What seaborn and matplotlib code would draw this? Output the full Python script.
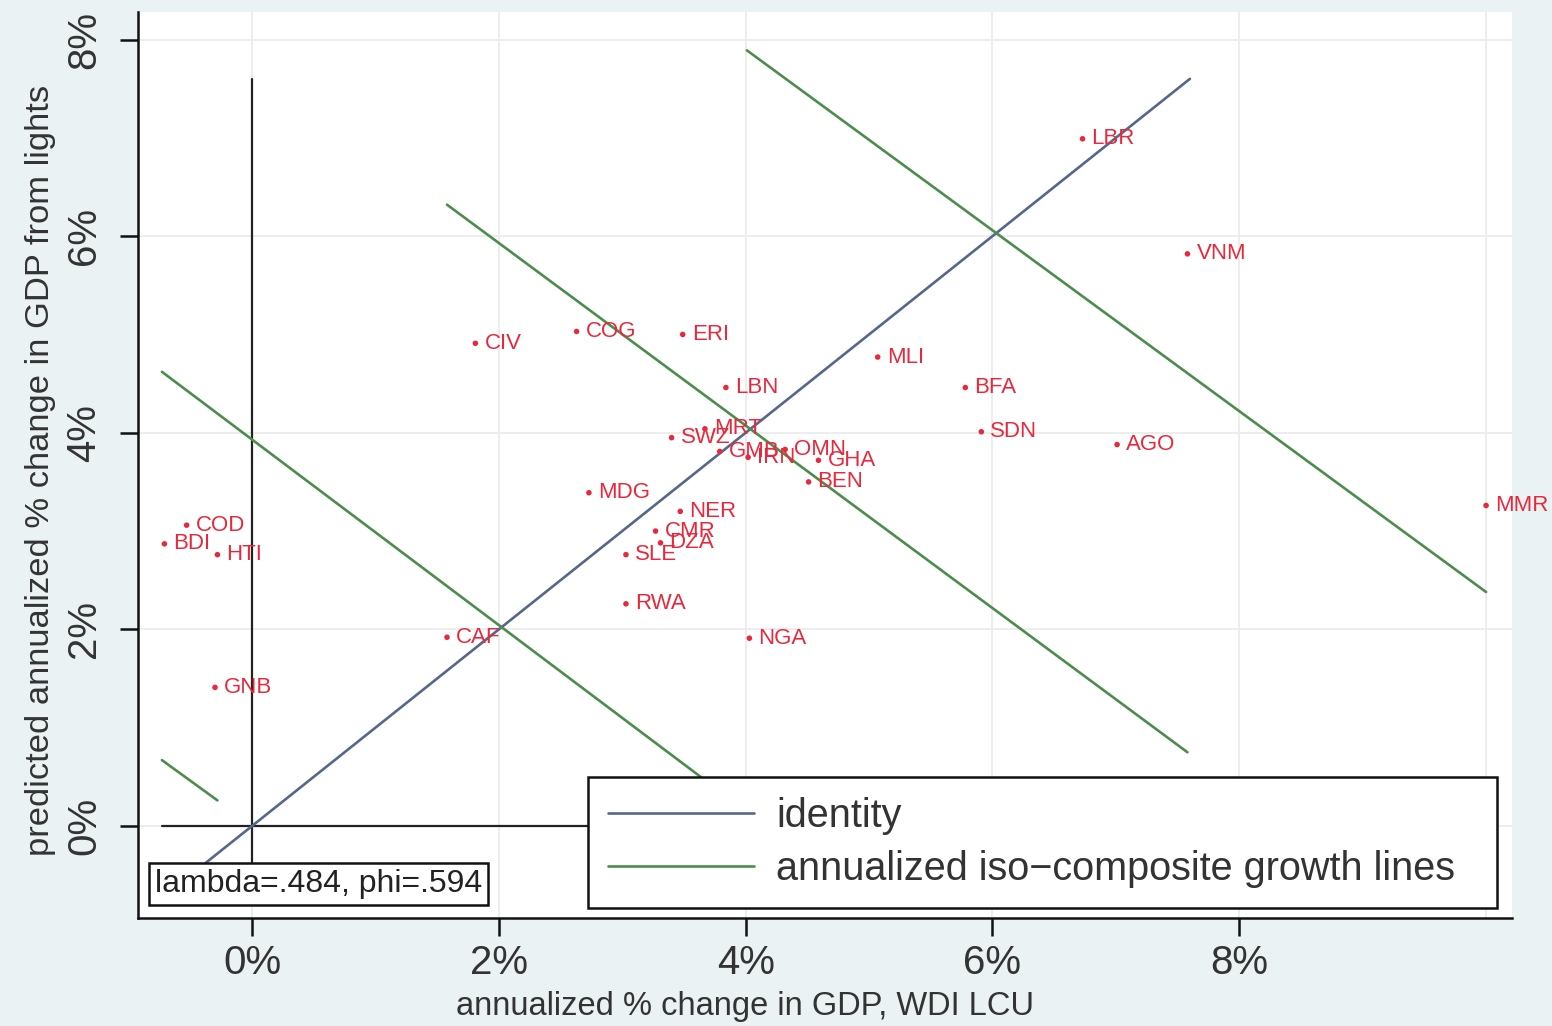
import numpy as np
import pandas as pd
import matplotlib
matplotlib.use("Agg")
import matplotlib.pyplot as plt
from matplotlib.lines import Line2D
from matplotlib.ticker import FuncFormatter
import seaborn as sns

# Country observations: annualized GDP growth (WDI, LCU) vs. growth predicted from lights (%)
countries = ["LBR", "VNM", "CIV", "COG", "ERI", "MLI", "LBN", "BFA", "SDN", "AGO",
             "MMR", "SWZ", "MRT", "GMB", "IRN", "OMN", "GHA", "BEN", "MDG", "NER",
             "CMR", "DZA", "SLE", "RWA", "NGA", "CAF", "COD", "BDI", "HTI", "GNB"]
gdp_wdi = [6.73, 7.58, 1.81, 2.63, 3.49, 5.07, 3.84, 5.78, 5.91, 7.01,
           10.00, 3.40, 3.67, 3.79, 4.02, 4.32, 4.59, 4.51, 2.73, 3.47,
           3.27, 3.31, 3.03, 3.03, 4.03, 1.58, -0.53, -0.71, -0.28, -0.30]
gdp_lights = [6.99, 5.82, 4.91, 5.03, 5.00, 4.77, 4.46, 4.46, 4.01, 3.88,
              3.26, 3.95, 4.04, 3.81, 3.75, 3.83, 3.72, 3.50, 3.39, 3.20,
              3.00, 2.88, 2.76, 2.26, 1.91, 1.92, 3.06, 2.87, 2.76, 1.41]

# 45-degree identity line
identity_range = [-0.40, 7.60]

# Iso-composite growth segments (one per composite growth level 0, 2, 4, 6 %)
iso_level = [0, 2, 4, 6]
iso_x_start = [-0.73, -0.73, 1.58, 4.01]
iso_x_end = [-0.28, 3.90, 7.58, 10.00]
iso_y_start = [0.67, 4.62, 6.32, 7.89]
iso_y_end = [0.26, 0.25, 0.75, 2.38]

# Zero reference lines
vref_y = [-0.40, 7.60]
href_x = [-0.73, 7.60]

x_ticks = [0, 2, 4, 6, 8]
x_grid = [0, 2, 4, 6, 8, 10]
y_ticks = [0, 2, 4, 6, 8]
annotation = "lambda=.484, phi=.594"

RED = "#e8283c"
GREEN = "#4c8c4c"
NAVY = "#56678a"
BG = "#eaf2f3"

sns.set_theme(style="white")
plt.rcParams["font.family"] = ["Liberation Sans", "DejaVu Sans"]

fig = plt.figure(figsize=(15.52, 10.26), dpi=100, facecolor=BG)
ax = fig.add_axes([138 / 1552, 1 - 918 / 1026, 1374 / 1552, 906 / 1026])
ax.set_facecolor("white")
ax.set_xlim(-0.924, 10.21)
ax.set_ylim(-0.936, 8.28)

for gx in x_grid:
    ax.axvline(gx, color="#ececec", lw=1.3, zorder=0)
for gy in y_ticks:
    ax.axhline(gy, color="#ececec", lw=1.3, zorder=0)

# reference lines at zero
ref = pd.DataFrame({"x": [0, 0], "y": vref_y})
sns.lineplot(data=ref, x="x", y="y", ax=ax, color="#222222", lw=1.6,
             estimator=None, sort=False, zorder=2)
ref = pd.DataFrame({"x": href_x, "y": [0, 0]})
sns.lineplot(data=ref, x="x", y="y", ax=ax, color="#222222", lw=1.6,
             estimator=None, sort=False, zorder=2)

# identity
ident = pd.DataFrame({"x": identity_range, "y": identity_range})
sns.lineplot(data=ident, x="x", y="y", ax=ax, color=NAVY, lw=1.9,
             estimator=None, sort=False, zorder=3)

# iso-composite growth lines
iso = pd.DataFrame({
    "level": np.repeat(iso_level, 2),
    "x": np.ravel(np.column_stack([iso_x_start, iso_x_end])),
    "y": np.ravel(np.column_stack([iso_y_start, iso_y_end])),
})
sns.lineplot(data=iso, x="x", y="y", units="level", ax=ax, color=GREEN, lw=1.9,
             estimator=None, sort=False, zorder=3)

# country points with labels
pts = pd.DataFrame({"iso3": countries, "x": gdp_wdi, "y": gdp_lights})
sns.scatterplot(data=pts, x="x", y="y", ax=ax, color=RED, s=16,
                edgecolor="none", zorder=4)
for _, r in pts.iterrows():
    ax.annotate(r["iso3"], (r["x"], r["y"]), xytext=(6.5, 0),
                textcoords="offset points", va="center", ha="left",
                color=RED, fontsize=16, zorder=4)

# axes styling
for side in ["top", "right"]:
    ax.spines[side].set_visible(False)
for side in ["left", "bottom"]:
    ax.spines[side].set_color("#111111")
    ax.spines[side].set_linewidth(1.8)
ax.set_xticks(x_ticks)
ax.set_yticks(y_ticks)
pct = FuncFormatter(lambda v, p: f"{v:.0f}%")
ax.xaxis.set_major_formatter(pct)
ax.yaxis.set_major_formatter(pct)
ax.tick_params(axis="both", direction="out", length=13, width=1.8,
               color="#111111", labelsize=29, labelcolor="#333333",
               bottom=True, left=True)
ax.tick_params(axis="x", pad=6)
ax.tick_params(axis="y", pad=12)
for lab in ax.get_yticklabels():
    lab.set_rotation(90)
    lab.set_va("center")

ax.set_xlabel("annualized % change in GDP, WDI LCU", fontsize=23.5,
              color="#333333")
ax.xaxis.set_label_coords(0.442, -0.081)
ax.set_ylabel("predicted annualized % change in GDP from lights", fontsize=24.8,
              color="#333333")
ax.yaxis.set_label_coords(-0.060, 0.494)

# parameter box
ax.text(0.0124, 0.0375, annotation, transform=ax.transAxes, fontsize=23,
        color="#222222", va="center", ha="left", zorder=6,
        bbox=dict(boxstyle="square,pad=0.18", fc="white", ec="#111111", lw=1.8))

handles = [Line2D([], [], color=NAVY, lw=1.9),
           Line2D([], [], color=GREEN, lw=1.9)]
leg = ax.legend(handles, ["identity", "annualized iso\u2212composite growth lines"],
                loc="lower left", bbox_to_anchor=(0.3275, 0.011, 0.6615, 0.157),
                mode="expand", fontsize=28.5, frameon=True, fancybox=False,
                framealpha=1.0, handlelength=3.7, handletextpad=0.55,
                labelspacing=0.38, borderpad=0.5, borderaxespad=0)
leg.get_frame().set_edgecolor("#111111")
leg.get_frame().set_linewidth(1.8)
leg.set_zorder(7)
for t in leg.get_texts():
    t.set_color("#333333")

fig.savefig("out.png", dpi=100, facecolor=BG)
